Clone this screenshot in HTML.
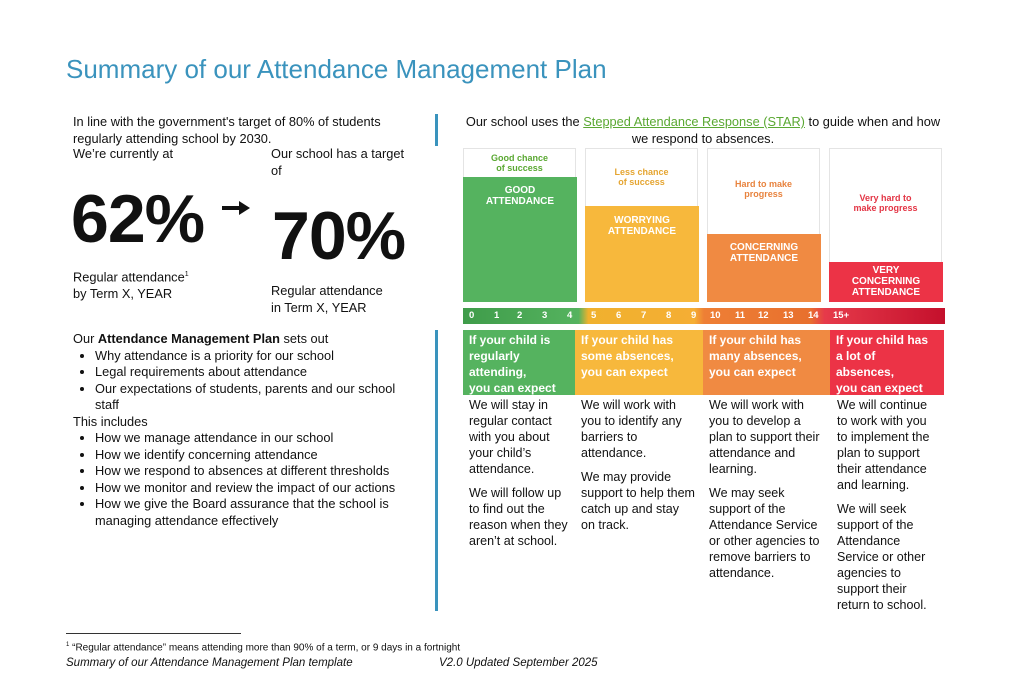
<!DOCTYPE html><html><head><style>
body{margin:0;width:1024px;height:699px;background:#fff;position:relative;font-family:"Liberation Sans",sans-serif;color:#111;overflow:hidden}
.a{position:absolute;white-space:nowrap}
.t{font-size:12.8px;line-height:16.5px}
.b{position:absolute;font-weight:bold;color:#fff;text-align:center;font-size:10px;line-height:11px}
.o{position:absolute;border:1px solid #e4e4e4;border-bottom:none;text-align:center;font-size:9px;font-weight:bold;line-height:10px}
.h{position:absolute;top:330px;height:65px;color:#fff;font-weight:bold;font-size:12px;line-height:16px;padding:2px 6px;box-sizing:border-box}
.c{position:absolute;top:397px;font-size:12.5px;line-height:16px;white-space:normal}
ul{margin:0;padding-left:22px}
</style></head><body>
<div class="a" style="left:66px;top:54px;font-size:26px;color:#3a93bd">Summary of our Attendance Management Plan</div>
<div class="a t" style="left:73px;top:114px">In line with the government's target of 80% of students<br>regularly attending school by 2030.</div>
<div class="a t" style="left:73px;top:146px">We’re currently at</div>
<div class="a t" style="left:271px;top:146px">Our school has a target<br>of</div>
<div class="a" style="left:71px;top:180px;font-size:68px;font-weight:bold;letter-spacing:-1px">62%</div>
<svg class="a" style="left:220px;top:199px" width="32" height="18"><path d="M2 9H22" stroke="#111" stroke-width="4"/><path d="M19 2L30 9L19 16Z" fill="#111"/></svg>
<div class="a" style="left:272px;top:197px;font-size:68px;font-weight:bold;letter-spacing:-1px">70%</div>
<div class="a t" style="left:73px;top:267px">Regular attendance<sup style="font-size:7px">1</sup><br>by Term X, YEAR</div>
<div class="a t" style="left:271px;top:283px">Regular attendance<br>in Term X, YEAR</div>
<div class="a t" style="left:73px;top:331px">Our <b>Attendance Management Plan</b> sets out
<ul><li>Why attendance is a priority for our school</li><li>Legal requirements about attendance</li><li>Our expectations of students, parents and our school<br>staff</li></ul>This includes
<ul><li>How we manage attendance in our school</li><li>How we identify concerning attendance</li><li>How we respond to absences at different thresholds</li><li>How we monitor and review the impact of our actions</li><li>How we give the Board assurance that the school is<br>managing attendance effectively</li></ul></div>
<div class="a" style="left:435px;top:114px;width:3px;height:32px;background:#3a93bd"></div>
<div class="a" style="left:435px;top:330px;width:3px;height:281px;background:#3a93bd"></div>
<div class="a t" style="left:463px;top:114px;width:480px;text-align:center;white-space:normal">Our school uses the <span style="color:#5aa832;text-decoration:underline">Stepped Attendance Response (STAR)</span> to guide when and how we respond to absences.</div>
<div class="o" style="left:463px;top:148px;width:113px;height:29px;color:#5aa832;padding-top:4px;box-sizing:border-box">Good chance<br>of success</div>
<div class="o" style="left:585px;top:148px;width:113px;height:58px;color:#e5a531;padding-top:18px;box-sizing:border-box">Less chance<br>of success</div>
<div class="o" style="left:707px;top:148px;width:113px;height:86px;color:#e8833e;padding-top:30px;box-sizing:border-box">Hard to make<br>progress</div>
<div class="o" style="left:829px;top:148px;width:113px;height:114px;color:#e33545;padding-top:44px;box-sizing:border-box">Very hard to<br>make progress</div>
<div class="b" style="left:463px;top:177px;width:114px;height:125px;background:#55b35f;padding-top:8px;box-sizing:border-box">GOOD<br>ATTENDANCE</div>
<div class="b" style="left:585px;top:206px;width:114px;height:96px;background:#f7b83c;padding-top:9px;box-sizing:border-box">WORRYING<br>ATTENDANCE</div>
<div class="b" style="left:707px;top:234px;width:114px;height:68px;background:#f08a42;padding-top:8px;box-sizing:border-box">CONCERNING<br>ATTENDANCE</div>
<div class="b" style="left:829px;top:262px;width:114px;height:40px;background:#ec3346;padding-top:3px;box-sizing:border-box">VERY<br>CONCERNING<br>ATTENDANCE</div>
<div class="a" style="left:463px;top:308px;width:482px;height:16px;background:linear-gradient(90deg,#3f9c4a 0,#55b35f 24%,#f0b12e 26%,#f5ae34 48%,#ee7f35 50%,#e8702e 72%,#e63a4a 75%,#c4102c 100%);color:#fff;font-size:9.5px;font-weight:bold;line-height:16px">
<span style="position:absolute;left:6px">0</span><span style="position:absolute;left:31px">1</span><span style="position:absolute;left:54px">2</span><span style="position:absolute;left:79px">3</span><span style="position:absolute;left:104px">4</span><span style="position:absolute;left:128px">5</span><span style="position:absolute;left:153px">6</span><span style="position:absolute;left:178px">7</span><span style="position:absolute;left:203px">8</span><span style="position:absolute;left:228px">9</span><span style="position:absolute;left:247px">10</span><span style="position:absolute;left:272px">11</span><span style="position:absolute;left:295px">12</span><span style="position:absolute;left:320px">13</span><span style="position:absolute;left:345px">14</span><span style="position:absolute;left:370px">15+</span></div>
<div class="h" style="left:463px;width:112px;background:#55b35f">If your child is<br>regularly<br>attending,<br>you can expect</div>
<div class="h" style="left:575px;width:128px;background:#f7b83c">If your child has<br>some absences,<br>you can expect</div>
<div class="h" style="left:703px;width:127px;background:#f08a42">If your child has<br>many absences,<br>you can expect</div>
<div class="h" style="left:830px;width:114px;background:#ec3346">If your child has<br>a lot of<br>absences,<br>you can expect</div>
<div class="c" style="left:469px;width:100px">We will stay in regular contact with you about your child’s attendance.<div style="height:8px"></div>We will follow up to find out the reason when they aren’t at school.</div>
<div class="c" style="left:581px;width:114px">We will work with you to identify any barriers to attendance.<div style="height:8px"></div>We may provide support to help them catch up and stay on track.</div>
<div class="c" style="left:709px;width:112px">We will work with you to develop a plan to support their attendance and learning.<div style="height:8px"></div>We may seek support of the Attendance Service or other agencies to remove barriers to attendance.</div>
<div class="c" style="left:837px;width:102px">We will continue to work with you to implement the plan to support their attendance and learning.<div style="height:8px"></div>We will seek support of the Attendance Service or other agencies to support their return to school.</div>
<div class="a" style="left:66px;top:633px;width:175px;height:1px;background:#333"></div>
<div class="a" style="left:66px;top:642px;font-size:10px"><sup style="font-size:6px">1</sup> “Regular attendance” means attending more than 90% of a term, or 9 days in a fortnight</div>
<div class="a" style="left:66px;top:657px;font-size:11.5px;font-style:italic">Summary of our Attendance Management Plan template</div>
<div class="a" style="left:439px;top:657px;font-size:11.5px;font-style:italic">V2.0 Updated September 2025</div>
</body></html>
